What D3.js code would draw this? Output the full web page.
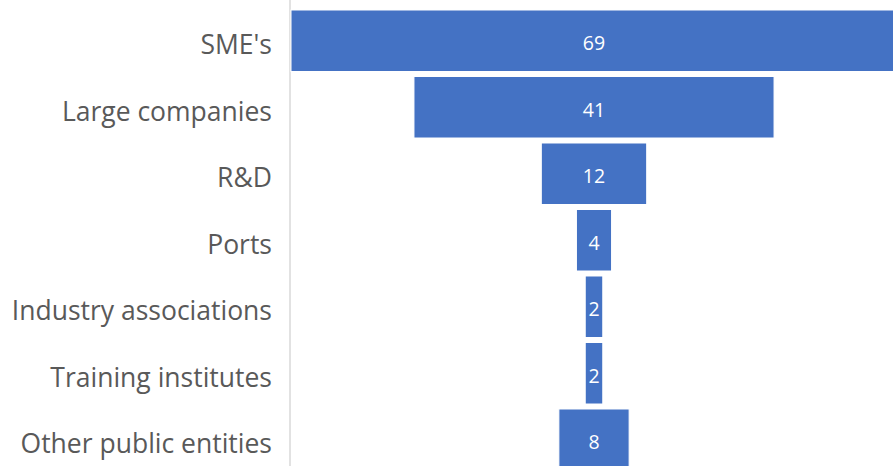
<!DOCTYPE html>
<html>
<head>
<meta charset="utf-8">
<script src="https://cdn.jsdelivr.net/npm/d3@7"></script>
<style>
  body { margin: 0; background: #fff; }
  .cat text { font: 26.5px "Open Sans", sans-serif; fill: #595959; text-anchor: end; }
  .val { font: 19.5px "Open Sans", sans-serif; fill: #fff; text-anchor: middle; }
</style>
</head>
<body>
<script>
const categories = ["SME's", 'Large companies', 'R&D', 'Ports', 'Industry associations', 'Training institutes', 'Other public entities'];
const values = [69, 41, 12, 4, 2, 2, 8];

const config = { width: 893, height: 466 };

const svg = d3.select('body')
  .append('svg')
  .attr('width', config.width)
  .attr('height', config.height);

const axisX = 290;
const center = 594;

// band for the rows; the last one runs off the bottom
const y = d3.scaleBand()
  .domain(categories)
  .range([7.5, 7.5 + 66.5 * categories.length])
  .paddingInner(0.075)
  .paddingOuter(0.0375);

const w = d3.scaleLinear()
  .domain([0, d3.max(values)])
  .range([0, 2 * (center - axisX - 1)]);

const data = categories.map((c, i) => ({ name: c, value: values[i] }));

svg.append('line')
  .attr('x1', axisX).attr('x2', axisX)
  .attr('y1', 0).attr('y2', config.height)
  .attr('stroke', '#d9d9d9')
  .attr('stroke-width', 1.5);

const row = svg.selectAll('.row')
  .data(data)
  .enter()
  .append('g')
  .attr('class', 'row');

row.append('rect')
  .attr('x', d => center - w(d.value) / 2)
  .attr('y', d => y(d.name))
  .attr('width', d => w(d.value))
  .attr('height', y.bandwidth())
  .attr('fill', '#4472c4')
  .attr('stroke', '#ffffff')
  .attr('stroke-width', 1);

row.append('text')
  .attr('class', 'val')
  .attr('x', center)
  .attr('y', d => y(d.name) + y.bandwidth() / 2 + 2)
  .attr('dominant-baseline', 'central')
  .text(d => d.value);

const cat = svg.append('g').attr('class', 'cat');
cat.selectAll('text')
  .data(categories)
  .enter()
  .append('text')
  .attr('x', 272)
  .attr('y', d => y(d) + y.bandwidth() / 2 + 3.5)
  .attr('dominant-baseline', 'central')
  .text(d => d);
</script>
</body>
</html>
